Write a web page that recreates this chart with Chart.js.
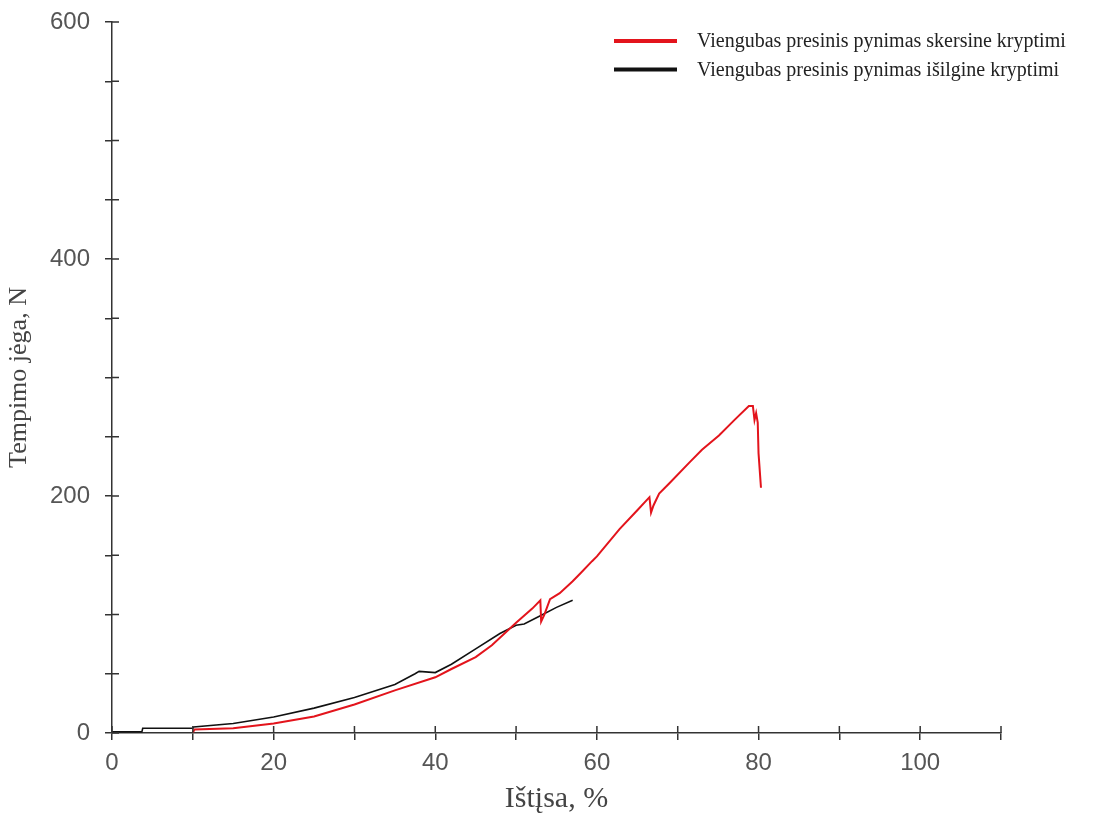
<!DOCTYPE html>
<html>
<head>
<meta charset="utf-8">
<script src="https://cdn.jsdelivr.net/npm/chart.js@4"></script>
<style>
  html, body { margin: 0; padding: 0; background: #fff; }
  #wrap { position: relative; width: 1096px; height: 821px; }
</style>
</head>
<body>
<div id="wrap"><canvas id="chart" width="1096" height="821"></canvas></div>
<script>
// skersine kryptimi (red)
const strainRed = [10, 10.2, 15, 20, 25, 30, 35, 40, 42, 45, 47, 50, 52, 53, 53.1, 53.5, 54.2, 55.4, 57, 58, 59.4, 60, 62.8, 65, 66.5, 66.7, 67, 67.7, 69, 71.4, 73, 75.1, 77, 78.8, 79.3, 79.5, 79.7, 79.9, 80.0, 80.3];
const forceRed = [0, 3, 4, 8, 14, 24, 36, 47, 54, 64, 74, 93, 105, 112, 94, 100, 113, 118, 128, 135, 145, 149, 172, 188, 199, 186, 192, 202, 211, 228, 239, 251, 264, 276, 276, 264, 270, 262, 236, 207];

// isilgine kryptimi (black)
const strainBlack = [0, 3.7, 3.8, 10, 10.1, 15, 20, 25, 30, 35, 37.5, 38, 40, 42, 45, 48, 50, 51, 53, 55, 57];
const forceBlack = [1, 1, 4, 4, 5, 8, 13.5, 21, 30, 41, 50, 52, 51, 58, 71, 84, 91, 92, 99, 106, 112];

const seriesLabels = [
  "Viengubas presinis pynimas skersine kryptimi",
  "Viengubas presinis pynimas išilgine kryptimi"
];
const xTitle = "Ištįsa, %";
const yTitle = "Tempimo jėga, N";

const toPoints = (xs, ys) => xs.map((x, i) => ({ x: x, y: ys[i] }));

// ticks that cross the axis line (inner half)
const innerTicks = {
  id: "innerTicks",
  afterDraw(chart) {
    const ctx = chart.ctx;
    const xs = chart.scales.x, ys = chart.scales.y;
    ctx.save();
    ctx.strokeStyle = "#333";
    ctx.lineWidth = 1.5;
    ctx.beginPath();
    xs.ticks.forEach(t => {
      const px = xs.getPixelForValue(t.value);
      ctx.moveTo(px, ys.bottom);
      ctx.lineTo(px, ys.bottom - 7);
    });
    ys.ticks.forEach(t => {
      const py = ys.getPixelForValue(t.value);
      ctx.moveTo(xs.left, py);
      ctx.lineTo(xs.left + 7, py);
    });
    ctx.stroke();
    ctx.restore();
  }
};

// legend in the upper right
const lineLegend = {
  id: "lineLegend",
  afterDraw(chart) {
    const ctx = chart.ctx;
    ctx.save();
    ctx.font = "20px 'Liberation Serif'";
    ctx.textBaseline = "middle";
    chart.data.datasets.forEach((ds, i) => {
      const y = 41 + i * 28.5;
      ctx.strokeStyle = ds.borderColor;
      ctx.lineWidth = 4;
      ctx.beginPath();
      ctx.moveTo(614, y);
      ctx.lineTo(677, y);
      ctx.stroke();
      ctx.fillStyle = "#222";
      ctx.fillText(ds.label, 697, y + 1);
    });
    ctx.restore();
  }
};

new Chart(document.getElementById("chart"), {
  type: "scatter",
  data: {
    datasets: [
      {
        label: seriesLabels[0],
        data: toPoints(strainRed, forceRed),
        showLine: true,
        borderColor: "#e3141c",
        borderWidth: 2,
        pointRadius: 0,
        tension: 0
      },
      {
        label: seriesLabels[1],
        data: toPoints(strainBlack, forceBlack),
        showLine: true,
        borderColor: "#111",
        borderWidth: 1.6,
        pointRadius: 0,
        tension: 0
      }
    ]
  },
  options: {
    responsive: false,
    animation: false,
    layout: { padding: { top: 22, right: 95, left: 0, bottom: 0 } },
    plugins: {
      legend: { display: false },
      tooltip: { enabled: false }
    },
    scales: {
      x: {
        type: "linear",
        min: 0,
        max: 110,
        afterFit: s => { s.height = 88; s.paddingLeft = 0; s.paddingRight = 0; },
        border: { display: true, color: "#333", width: 1.5 },
        grid: { display: true, drawOnChartArea: false, drawTicks: true, tickLength: 7, color: "#333", lineWidth: 1.5 },
        ticks: {
          stepSize: 10,
          padding: 9,
          color: "#555",
          font: { family: "'Liberation Sans'", size: 24 },
          callback: v => (v % 20 === 0 ? v : "")
        },
        title: {
          display: true,
          text: xTitle,
          color: "#444",
          font: { family: "'Liberation Serif'", size: 30 },
          padding: { top: 5, bottom: 4 }
        }
      },
      y: {
        type: "linear",
        min: 0,
        max: 600,
        afterFit: s => { s.width = 112; s.paddingTop = 0; s.paddingBottom = 0; },
        border: { display: true, color: "#333", width: 1.5 },
        grid: { display: true, drawOnChartArea: false, drawTicks: true, tickLength: 7, color: "#333", lineWidth: 1.5 },
        ticks: {
          stepSize: 50,
          padding: 15,
          color: "#555",
          font: { family: "'Liberation Sans'", size: 24 },
          callback: v => (v % 200 === 0 ? v : "")
        },
        title: {
          display: true,
          text: yTitle,
          color: "#444",
          font: { family: "'Liberation Serif'", size: 26 },
          padding: { top: 4, bottom: 8 }
        }
      }
    }
  },
  plugins: [innerTicks, lineLegend]
});
</script>
</body>
</html>
